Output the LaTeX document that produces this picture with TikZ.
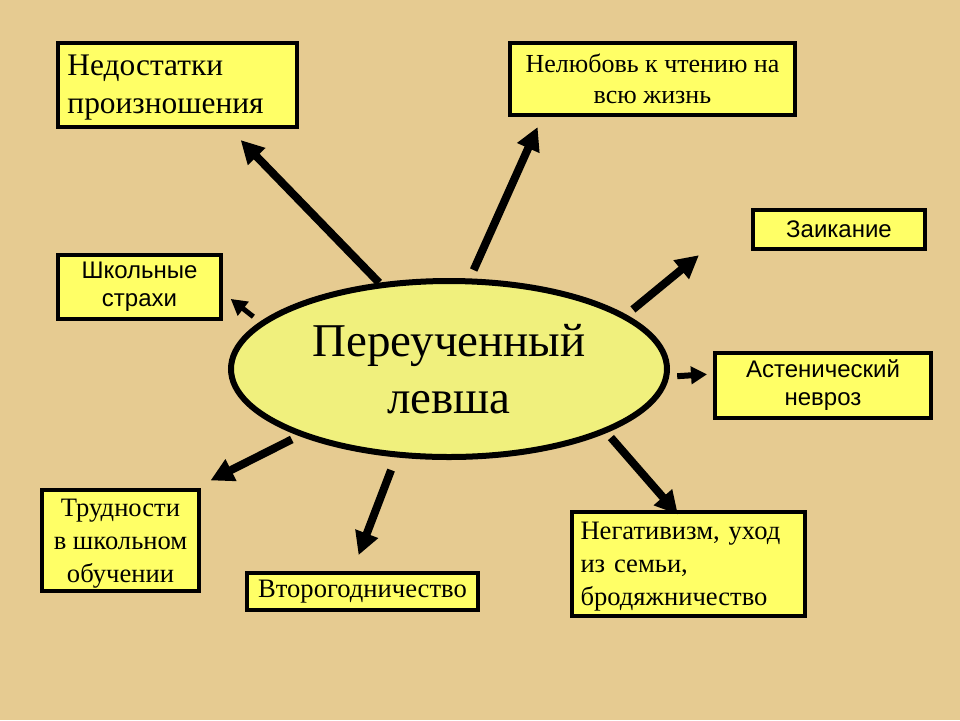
\documentclass[tikz,border=0pt]{standalone}
\usepackage{fontspec}
\setmainfont{Liberation Serif}
\setsansfont{Liberation Sans}
\usetikzlibrary{shapes.geometric,arrows.meta}

\definecolor{paper}{RGB}{230,203,145}
\definecolor{boxyellow}{RGB}{255,255,102}
\definecolor{ovalyellow}{RGB}{240,240,125}

\begin{document}
\begin{tikzpicture}[x=0.5pt,y=-0.5pt,>={Triangle[length=11.5pt,width=11.5pt]},
  box/.style={draw,line width=2pt,fill=boxyellow,inner xsep=4pt,inner ysep=0pt,align=center},
  serifbox/.style={box,font=\fontsize{13.3}{16.5}\selectfont},
  sansbox/.style={box,font=\sffamily\fontsize{12}{14}\selectfont},
  oval/.style={ellipse,draw,line width=3pt,fill=ovalyellow,inner sep=0pt,align=center,
    minimum width=218pt,minimum height=88pt,font=\fontsize{23.5}{28.5}\selectfont},
  thinarrow/.style={line width=3pt,>={Triangle[length=8pt,width=8.5pt]}}]
  \fill[paper] (0,0) rectangle (960,720);

  \node[oval] (lev) at (449,369) {Переученный\\левша};

  \node[box,align=left,text width=110pt,minimum width=119.5pt,minimum height=42pt,
    font=\fontsize{15.7}{19}\selectfont] (nedo) at (177.5,85) {\strut Недостатки\\произношения};
  \node[box,minimum width=142.5pt,minimum height=36pt,font=\fontsize{13}{15.5}\selectfont]
    (nelyub) at (652.5,79) {Нелюбовь к чтению на\\всю жизнь};
  \node[sansbox,minimum width=86pt,minimum height=19.5pt] (zaik) at (839,229.5) {Заикание};
  \node[sansbox,minimum width=81.5pt,minimum height=32pt] (shkol) at (139.5,287) {Школьные\\страхи};
  \node[sansbox,minimum width=108pt,minimum height=32.5pt] (asten) at (823,385.5) {Астенический\\невроз};
  \node[serifbox,minimum width=78.5pt,minimum height=50.5pt] (trud) at (120.5,540.5)
    {\strut Трудности\\в школьном\\обучении};
  \node[serifbox,minimum width=115.5pt,minimum height=18.5pt] (vtor) at (362.5,591.5) {Второгодничество};
  \node[serifbox,align=left,text width=108pt,minimum width=116.5pt,minimum height=52pt]
    (negat) at (688.5,564) {\strut Негативизм, уход\\из семьи,\\бродяжничество};

  \path[every edge/.append style={->,line width=4pt}]
  (lev.129) edge[shorten >=7.7pt] (nedo.-40)
  (lev.77.5) edge[shorten <=4.6pt,shorten >=5.5pt] (nelyub.199.4)
  (lev.17.3) edge[shorten <=4.2pt,shorten >=33.7pt] (zaik.169.6)
  (lev.-2) edge[thinarrow,shorten <=4pt,shorten >=3pt] (asten.174.5)
  (lev.-22.2) edge[shorten <=3.2pt,shorten >=-3pt] (negat.105.2)
  (lev.-121.6) edge[shorten <=6.8pt,shorten >=8.5pt] (vtor.116.9)
  (lev.-156.5) edge[shorten <=4pt,shorten >=8.4pt] (trud.35.1)
  (lev.166) edge[thinarrow,line width=2.5pt,shorten <=4.2pt,shorten >=4.9pt] (shkol.-4.9)
  ;
\end{tikzpicture}
\end{document}
